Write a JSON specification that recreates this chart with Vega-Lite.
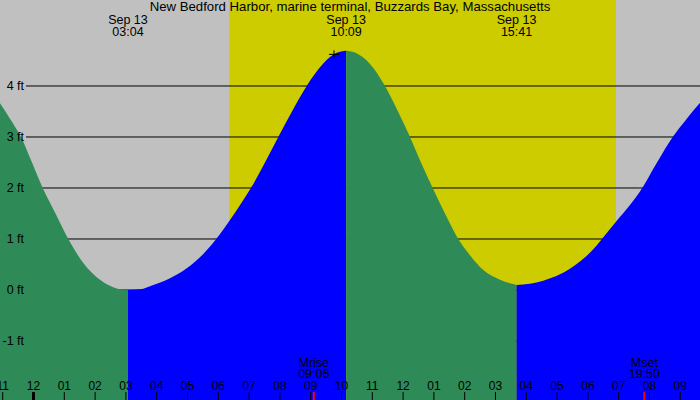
{
  "$schema": "https://vega.github.io/schema/vega-lite/v6.json",
  "width": 700,
  "height": 400,
  "padding": 0,
  "autosize": "none",
  "background": "#c0c0c0",
  "config": {
    "view": {"stroke": null},
    "text": {"font": "Liberation Sans", "fontSize": 12.5, "color": "black"}
  },
  "datasets": {
    "tide": [
      {"t": -1.088, "ft": 3.66, "seg": 1, "phase": "falling"},
      {"t": -0.763, "ft": 3.36, "seg": 1, "phase": "falling"},
      {"t": -0.406, "ft": 3.0, "seg": 1, "phase": "falling"},
      {"t": -0.049, "ft": 2.5, "seg": 1, "phase": "falling"},
      {"t": 0.299, "ft": 2.0, "seg": 1, "phase": "falling"},
      {"t": 0.714, "ft": 1.5, "seg": 1, "phase": "falling"},
      {"t": 1.13, "ft": 1.0, "seg": 1, "phase": "falling"},
      {"t": 1.617, "ft": 0.53, "seg": 1, "phase": "falling"},
      {"t": 2.159, "ft": 0.2, "seg": 1, "phase": "falling"},
      {"t": 2.701, "ft": 0.03, "seg": 1, "phase": "falling"},
      {"t": 3.067, "ft": 0.0, "seg": 1, "phase": "falling"},
      {"t": 3.067, "ft": 0.0, "seg": 2, "phase": "rising"},
      {"t": 3.458, "ft": 0.013, "seg": 2, "phase": "rising"},
      {"t": 3.89, "ft": 0.098, "seg": 2, "phase": "rising"},
      {"t": 4.432, "ft": 0.229, "seg": 2, "phase": "rising"},
      {"t": 4.974, "ft": 0.425, "seg": 2, "phase": "rising"},
      {"t": 5.513, "ft": 0.706, "seg": 2, "phase": "rising"},
      {"t": 5.925, "ft": 0.993, "seg": 2, "phase": "rising"},
      {"t": 6.38, "ft": 1.373, "seg": 2, "phase": "rising"},
      {"t": 6.812, "ft": 1.765, "seg": 2, "phase": "rising"},
      {"t": 7.052, "ft": 1.993, "seg": 2, "phase": "rising"},
      {"t": 7.516, "ft": 2.5, "seg": 2, "phase": "rising"},
      {"t": 7.948, "ft": 3.0, "seg": 2, "phase": "rising"},
      {"t": 8.393, "ft": 3.5, "seg": 2, "phase": "rising"},
      {"t": 8.87, "ft": 4.0, "seg": 2, "phase": "rising"},
      {"t": 9.409, "ft": 4.44, "seg": 2, "phase": "rising"},
      {"t": 9.844, "ft": 4.65, "seg": 2, "phase": "rising"},
      {"t": 10.15, "ft": 4.69, "seg": 2, "phase": "rising"},
      {"t": 10.15, "ft": 4.69, "seg": 3, "phase": "falling"},
      {"t": 10.471, "ft": 4.645, "seg": 3, "phase": "falling"},
      {"t": 10.925, "ft": 4.43, "seg": 3, "phase": "falling"},
      {"t": 11.412, "ft": 4.0, "seg": 3, "phase": "falling"},
      {"t": 11.834, "ft": 3.5, "seg": 3, "phase": "falling"},
      {"t": 12.224, "ft": 3.0, "seg": 3, "phase": "falling"},
      {"t": 12.581, "ft": 2.5, "seg": 3, "phase": "falling"},
      {"t": 12.961, "ft": 2.0, "seg": 3, "phase": "falling"},
      {"t": 13.36, "ft": 1.5, "seg": 3, "phase": "falling"},
      {"t": 13.792, "ft": 1.0, "seg": 3, "phase": "falling"},
      {"t": 14.172, "ft": 0.68, "seg": 3, "phase": "falling"},
      {"t": 14.604, "ft": 0.39, "seg": 3, "phase": "falling"},
      {"t": 15.146, "ft": 0.2, "seg": 3, "phase": "falling"},
      {"t": 15.471, "ft": 0.13, "seg": 3, "phase": "falling"},
      {"t": 15.683, "ft": 0.1, "seg": 3, "phase": "falling"},
      {"t": 15.683, "ft": 0.1, "seg": 4, "phase": "rising"},
      {"t": 16.12, "ft": 0.124, "seg": 4, "phase": "rising"},
      {"t": 16.552, "ft": 0.183, "seg": 4, "phase": "rising"},
      {"t": 17.094, "ft": 0.307, "seg": 4, "phase": "rising"},
      {"t": 17.636, "ft": 0.51, "seg": 4, "phase": "rising"},
      {"t": 18.175, "ft": 0.797, "seg": 4, "phase": "rising"},
      {"t": 18.448, "ft": 0.993, "seg": 4, "phase": "rising"},
      {"t": 18.912, "ft": 1.34, "seg": 4, "phase": "rising"},
      {"t": 19.367, "ft": 1.667, "seg": 4, "phase": "rising"},
      {"t": 19.692, "ft": 1.93, "seg": 4, "phase": "rising"},
      {"t": 20.244, "ft": 2.5, "seg": 4, "phase": "rising"},
      {"t": 20.753, "ft": 3.0, "seg": 4, "phase": "rising"},
      {"t": 21.185, "ft": 3.34, "seg": 4, "phase": "rising"},
      {"t": 21.64, "ft": 3.67, "seg": 4, "phase": "rising"}
    ],
    "sun": [{"rise": 6.357, "set": 18.912}],
    "levels": [
      {"ft": -1, "label": "-1 ft"},
      {"ft": 0, "label": "0 ft"},
      {"ft": 1, "label": "1 ft"},
      {"ft": 2, "label": "2 ft"},
      {"ft": 3, "label": "3 ft"},
      {"ft": 4, "label": "4 ft"}
    ],
    "hours": [
      {"t": -1, "label": "11"}, {"t": 0, "label": "12"}, {"t": 1, "label": "01"},
      {"t": 2, "label": "02"}, {"t": 3, "label": "03"}, {"t": 4, "label": "04"},
      {"t": 5, "label": "05"}, {"t": 6, "label": "06"}, {"t": 7, "label": "07"},
      {"t": 8, "label": "08"}, {"t": 9, "label": "09"}, {"t": 10, "label": "10"},
      {"t": 11, "label": "11"}, {"t": 12, "label": "12"}, {"t": 13, "label": "01"},
      {"t": 14, "label": "02"}, {"t": 15, "label": "03"}, {"t": 16, "label": "04"},
      {"t": 17, "label": "05"}, {"t": 18, "label": "06"}, {"t": 19, "label": "07"},
      {"t": 20, "label": "08"}, {"t": 21, "label": "09"}
    ],
    "events": [
      {"t": 3.067, "date": "Sep 13", "time": "03:04"},
      {"t": 10.15, "date": "Sep 13", "time": "10:09"},
      {"t": 15.683, "date": "Sep 13", "time": "15:41"}
    ],
    "moon": [
      {"t": 9.1, "name": "Mrise", "time": "09:06"},
      {"t": 19.833, "name": "Mset", "time": "19:50"}
    ],
    "peak": [{"t": 9.756, "ft": 4.62}],
    "station": [{"t": 10.276, "name": "New Bedford Harbor, marine terminal, Buzzards Bay, Massachusetts"}]
  },
  "layer": [
    {
      "data": {"name": "sun"},
      "mark": {"type": "rect", "color": "#cccc00"},
      "encoding": {
        "x": {"field": "rise", "type": "quantitative", "axis": null,
              "scale": {"domain": [-1.088, 21.64], "nice": false, "zero": false}},
        "x2": {"field": "set"}
      }
    },
    {
      "data": {"name": "levels"},
      "mark": {"type": "rule", "color": "black", "strokeWidth": 1},
      "encoding": {
        "y": {"field": "ft", "type": "quantitative", "axis": null,
              "scale": {"domain": [-2.157, 5.686], "nice": false, "zero": false}},
        "x": {"datum": -0.244, "type": "quantitative"},
        "x2": {"datum": 21.64}
      }
    },
    {
      "data": {"name": "tide"},
      "mark": {"type": "area", "interpolate": "monotone", "opacity": 1},
      "encoding": {
        "x": {"field": "t", "type": "quantitative"},
        "y": {"field": "ft", "type": "quantitative"},
        "y2": {"datum": -2.157},
        "detail": {"field": "seg", "type": "nominal"},
        "color": {"field": "phase", "type": "nominal", "legend": null,
                  "scale": {"domain": ["falling", "rising"], "range": ["#2e8b57", "#0000ff"]}}
      }
    },
    {
      "data": {"name": "levels"},
      "mark": {"type": "text", "align": "right", "baseline": "middle"},
      "encoding": {
        "x": {"datum": -0.308, "type": "quantitative"},
        "y": {"field": "ft", "type": "quantitative"},
        "text": {"field": "label"}
      }
    },
    {
      "data": {"name": "hours"},
      "mark": {"type": "rule", "color": "black", "strokeWidth": 1},
      "encoding": {
        "x": {"field": "t", "type": "quantitative"},
        "y": {"datum": -2.0, "type": "quantitative"},
        "y2": {"datum": -2.157}
      }
    },
    {
      "data": {"name": "hours"},
      "transform": [{"filter": "datum.t == 0"}],
      "mark": {"type": "rule", "color": "black", "strokeWidth": 3},
      "encoding": {
        "x": {"field": "t", "type": "quantitative"},
        "y": {"datum": -2.0, "type": "quantitative"},
        "y2": {"datum": -2.157}
      }
    },
    {
      "data": {"name": "hours"},
      "mark": {"type": "text", "align": "center", "baseline": "alphabetic", "fontSize": 12},
      "encoding": {
        "x": {"field": "t", "type": "quantitative"},
        "y": {"datum": -1.961, "type": "quantitative"},
        "text": {"field": "label"}
      }
    },
    {
      "data": {"name": "moon"},
      "mark": {"type": "rule", "color": "red", "strokeWidth": 2},
      "encoding": {
        "x": {"field": "t", "type": "quantitative"},
        "y": {"datum": -2.0, "type": "quantitative"},
        "y2": {"datum": -2.157}
      }
    },
    {
      "data": {"name": "moon"},
      "mark": {"type": "text", "align": "center", "baseline": "alphabetic"},
      "encoding": {
        "x": {"field": "t", "type": "quantitative"},
        "y": {"datum": -1.504, "type": "quantitative"},
        "text": {"field": "name"}
      }
    },
    {
      "data": {"name": "moon"},
      "mark": {"type": "text", "align": "center", "baseline": "alphabetic"},
      "encoding": {
        "x": {"field": "t", "type": "quantitative"},
        "y": {"datum": -1.731, "type": "quantitative"},
        "text": {"field": "time"}
      }
    },
    {
      "data": {"name": "events"},
      "mark": {"type": "text", "align": "center", "baseline": "alphabetic"},
      "encoding": {
        "x": {"field": "t", "type": "quantitative"},
        "y": {"datum": 5.225, "type": "quantitative"},
        "text": {"field": "date"}
      }
    },
    {
      "data": {"name": "events"},
      "mark": {"type": "text", "align": "center", "baseline": "alphabetic"},
      "encoding": {
        "x": {"field": "t", "type": "quantitative"},
        "y": {"datum": 4.986, "type": "quantitative"},
        "text": {"field": "time"}
      }
    },
    {
      "data": {"name": "station"},
      "mark": {"type": "text", "align": "center", "baseline": "alphabetic", "fontSize": 13.2},
      "encoding": {
        "x": {"field": "t", "type": "quantitative"},
        "y": {"datum": 5.471, "type": "quantitative"},
        "text": {"field": "name"}
      }
    },
    {
      "data": {"name": "peak"},
      "mark": {"type": "point", "shape": "M-1,0H1M0,-0.8V0.8", "filled": false,
               "stroke": "black", "strokeWidth": 1, "size": 100, "opacity": 1},
      "encoding": {
        "x": {"field": "t", "type": "quantitative"},
        "y": {"field": "ft", "type": "quantitative"}
      }
    }
  ]
}
